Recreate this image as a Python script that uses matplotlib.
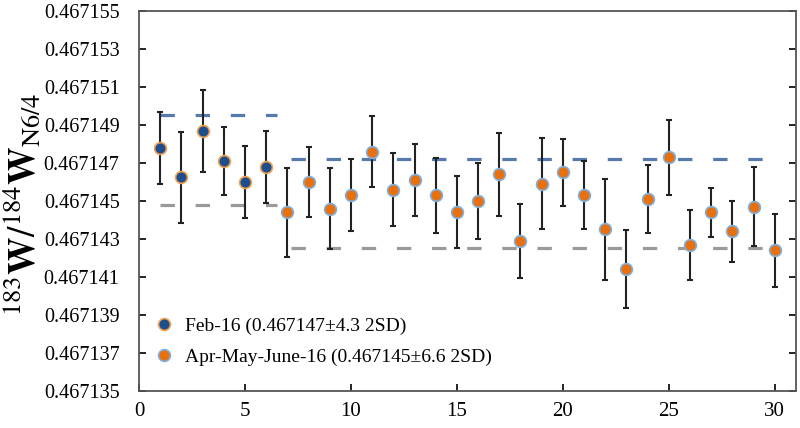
import matplotlib
matplotlib.use("Agg")
import matplotlib.pyplot as plt
from matplotlib.ticker import FormatStrFormatter, FixedLocator
from matplotlib.lines import Line2D

plt.rcParams['font.family'] = ['Liberation Serif', 'DejaVu Serif']
plt.rcParams['mathtext.fontset'] = 'stix'

# Data
feb_x = [1, 2, 3, 4, 5, 6]
feb_y = [0.4671478, 0.46714625, 0.4671487, 0.4671471, 0.4671460, 0.4671468]
feb_err = [1.9e-6, 2.4e-6, 2.15e-6, 1.8e-6, 1.9e-6, 1.9e-6]

apr_x = list(range(7, 31))
apr_y = [0.4671444, 0.4671460, 0.4671446, 0.4671453, 0.4671476, 0.4671456,
         0.4671461, 0.4671453, 0.4671444, 0.4671450, 0.4671464, 0.4671429,
         0.4671459, 0.4671465, 0.4671453, 0.4671435, 0.4671414, 0.4671451,
         0.4671473, 0.4671427, 0.4671444, 0.4671434, 0.4671447, 0.4671424]
apr_err = [2.35e-6, 1.85e-6, 2.15e-6, 1.9e-6, 1.85e-6, 1.9e-6,
           1.9e-6, 1.97e-6, 1.9e-6, 2.0e-6, 2.17e-6, 1.95e-6,
           2.4e-6, 1.78e-6, 1.8e-6, 2.68e-6, 2.05e-6, 1.8e-6,
           1.98e-6, 1.85e-6, 1.3e-6, 1.6e-6, 2.07e-6, 1.94e-6]

feb_upper = 0.4671495
feb_lower = 0.4671448
feb_span = [1, 6.5]
apr_upper = 0.4671472
apr_lower = 0.4671425
apr_span = [7.15, 30.2]

y_ticks = [0.467135, 0.467137, 0.467139, 0.467141, 0.467143, 0.467145,
           0.467147, 0.467149, 0.467151, 0.467153, 0.467155]
x_ticks = [0, 5, 10, 15, 20, 25, 30]

feb_label = "Feb-16 (0.467147\u00b14.3 2SD)"
apr_label = "Apr-May-June-16 (0.467145\u00b16.6 2SD)"

navy = '#1F4E8C'
orange = '#E8700F'
dash_blue = '#5679AE'
dash_grey = '#9A9A9A'

fig = plt.figure(figsize=(8, 4.28), dpi=100)
ax = fig.add_axes([0.17375, 0.0864, 0.82125, 0.888])

# dashed reference lines
for ys, span, col in [(feb_upper, feb_span, dash_blue), (feb_lower, feb_span, dash_grey),
                      (apr_upper, apr_span, dash_blue), (apr_lower, apr_span, dash_grey)]:
    ax.plot(span, [ys, ys], color=col, lw=2.3, dashes=(4.5, 6.5), zorder=1)

ax.errorbar(feb_x, feb_y, yerr=feb_err, fmt='none', ecolor='#222222', elinewidth=1.5,
            capsize=2.5, capthick=1.5, zorder=2)
ax.errorbar(apr_x, apr_y, yerr=apr_err, fmt='none', ecolor='#222222', elinewidth=1.5,
            capsize=2.5, capthick=1.5, zorder=2)
ax.plot(feb_x, feb_y, 'o', ms=8.5, mfc=navy, mec='#F0A050', mew=1.2, ls='none', zorder=3)
ax.plot(apr_x, apr_y, 'o', ms=8.5, mfc=orange, mec='#7FB0E0', mew=1.2, ls='none', zorder=3)

ax.set_xlim(0, 31)
ax.set_ylim(0.467135, 0.467155)
ax.xaxis.set_major_locator(FixedLocator(x_ticks))
ax.yaxis.set_major_locator(FixedLocator(y_ticks))
ax.yaxis.set_major_formatter(FormatStrFormatter('%.6f'))
ax.tick_params(axis='y', direction='in', left=True, right=True, length=5, width=1.2,
               labelsize=14.5, pad=14)
ax.tick_params(axis='x', direction='in', bottom=True, top=False, length=5, width=1.2,
               labelsize=15, pad=8)
for s in ax.spines.values():
    s.set_color('#555555')
    s.set_linewidth(1.3)

ax.set_ylabel(r'$^{183}\mathbf{W}/^{184}\mathbf{W}_{\mathrm{N6/4}}$', fontsize=27)
ax.yaxis.set_label_coords(-0.147, 0.49)

handles = [Line2D([], [], marker='o', ls='none', ms=8.5, mfc=navy, mec='#F0A050', mew=1.2),
           Line2D([], [], marker='o', ls='none', ms=8.5, mfc=orange, mec='#7FB0E0', mew=1.2)]
ax.legend(handles, [feb_label, apr_label], loc='lower left', bbox_to_anchor=(0.0, 0.03),
          frameon=False, fontsize=14, handletextpad=0.45, labelspacing=0.7, handlelength=1.2,
          borderaxespad=0.3)

fig.savefig('out.png', dpi=100)
